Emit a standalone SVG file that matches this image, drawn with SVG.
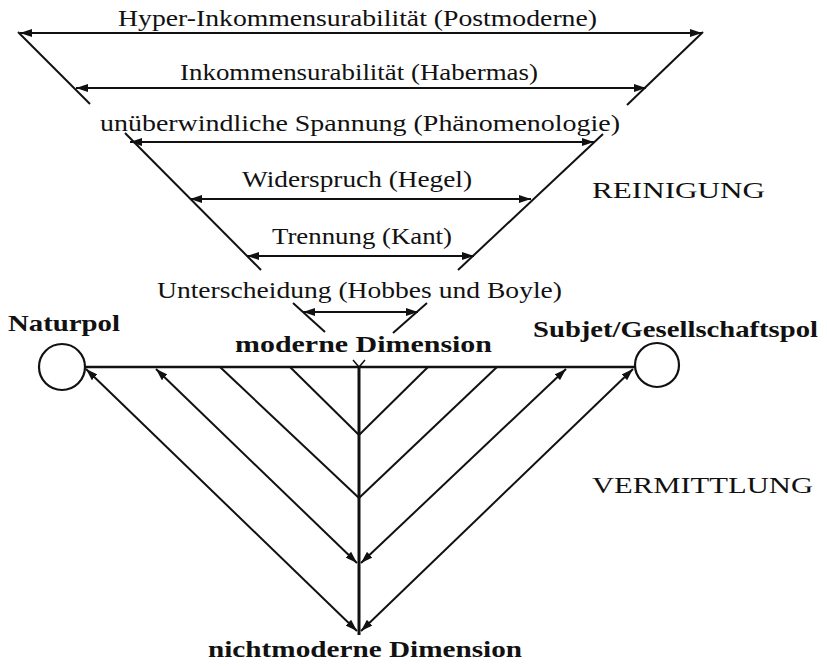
<svg xmlns="http://www.w3.org/2000/svg" width="827" height="666" viewBox="0 0 827 666">
<style>
.t{font-family:"Liberation Serif","Times New Roman",serif;font-size:23px;fill:#111}
.b{font-family:"Liberation Serif","Times New Roman",serif;font-size:23px;font-weight:bold;fill:#111}
.c{font-family:"Liberation Serif","Times New Roman",serif;font-size:23px;fill:#111}
.l{stroke:#111;stroke-width:2;fill:none}
.a{stroke:#111;stroke-width:2;fill:none;marker-start:url(#ah);marker-end:url(#ah)}
.n{stroke:#111;stroke-width:2.2;fill:#fff}
</style>
<defs>
<marker id="ah" viewBox="0 0 12 8" refX="12" refY="4" markerWidth="12" markerHeight="8" markerUnits="userSpaceOnUse" orient="auto-start-reverse">
<path d="M0,0 L12,4 L0,8 Z" fill="#111"/>
</marker>
</defs>
<rect width="827" height="666" fill="#fff"/>
<g id="connectors">
<line class="l" x1="18" y1="32" x2="90" y2="104"/>
<line class="l" x1="703" y1="32" x2="627" y2="105"/>
<line class="l" x1="125" y1="133" x2="261" y2="270"/>
<line class="l" x1="603" y1="134" x2="458" y2="270"/>
<line class="l" x1="293" y1="303" x2="325" y2="332"/>
<line class="l" x1="427" y1="303" x2="393" y2="333"/>
<line class="a" x1="20" y1="33" x2="702" y2="33"/>
<line class="a" x1="76" y1="88" x2="646" y2="88"/>
<line class="a" x1="130" y1="142" x2="594" y2="142"/>
<line class="a" x1="190" y1="199" x2="531" y2="199"/>
<line class="a" x1="247" y1="256" x2="474" y2="256"/>
<line class="a" x1="303" y1="312" x2="418" y2="312"/>
<line class="l" x1="85" y1="367" x2="635" y2="367" style="stroke-width:2.6"/>
<line class="l" x1="359" y1="367" x2="359" y2="635" style="stroke-width:3"/>
<polyline class="l" points="353,360 359,367 365,360" style="stroke-width:1.5"/>
<line class="a" x1="86" y1="369" x2="357" y2="631"/>
<line class="a" x1="633" y1="369" x2="361" y2="631"/>
<line class="a" x1="156" y1="369" x2="357" y2="563"/>
<line class="a" x1="566" y1="369" x2="361" y2="563"/>
<line class="l" x1="220" y1="367" x2="359" y2="498"/>
<line class="l" x1="497" y1="367" x2="359" y2="498"/>
<line class="l" x1="290" y1="367" x2="359" y2="435"/>
<line class="l" x1="428" y1="367" x2="359" y2="435"/>
</g>
<g id="naturpol">
<circle class="n" cx="62" cy="367" r="23"/>
<text class="b" x="8" y="331" textLength="112" lengthAdjust="spacingAndGlyphs">Naturpol</text>
</g>
<g id="subjektpol">
<circle class="n" cx="657" cy="365" r="22"/>
<text class="b" x="533" y="337" textLength="285" lengthAdjust="spacingAndGlyphs">Subjet/Gesellschaftspol</text>
</g>
<g id="moderne">
<text class="b" x="235" y="352" textLength="257" lengthAdjust="spacingAndGlyphs">moderne Dimension</text>
</g>
<g id="nichtmoderne">
<text class="b" x="208" y="657" textLength="314" lengthAdjust="spacingAndGlyphs">nichtmoderne Dimension</text>
</g>
<g id="labels">
<text class="t" x="118" y="26" textLength="479" lengthAdjust="spacingAndGlyphs">Hyper-Inkommensurabilität (Postmoderne)</text>
<text class="t" x="180" y="80" textLength="358" lengthAdjust="spacingAndGlyphs">Inkommensurabilität (Habermas)</text>
<text class="t" x="100" y="131" textLength="520" lengthAdjust="spacingAndGlyphs">unüberwindliche Spannung (Phänomenologie)</text>
<text class="t" x="242" y="187" textLength="230" lengthAdjust="spacingAndGlyphs">Widerspruch (Hegel)</text>
<text class="t" x="272" y="244" textLength="180" lengthAdjust="spacingAndGlyphs">Trennung (Kant)</text>
<text class="t" x="157" y="298" textLength="405" lengthAdjust="spacingAndGlyphs">Unterscheidung (Hobbes und Boyle)</text>
<text class="c" x="592" y="198" textLength="173" lengthAdjust="spacingAndGlyphs">REINIGUNG</text>
<text class="c" x="592" y="493" textLength="221" lengthAdjust="spacingAndGlyphs">VERMITTLUNG</text>
</g>
</svg>
